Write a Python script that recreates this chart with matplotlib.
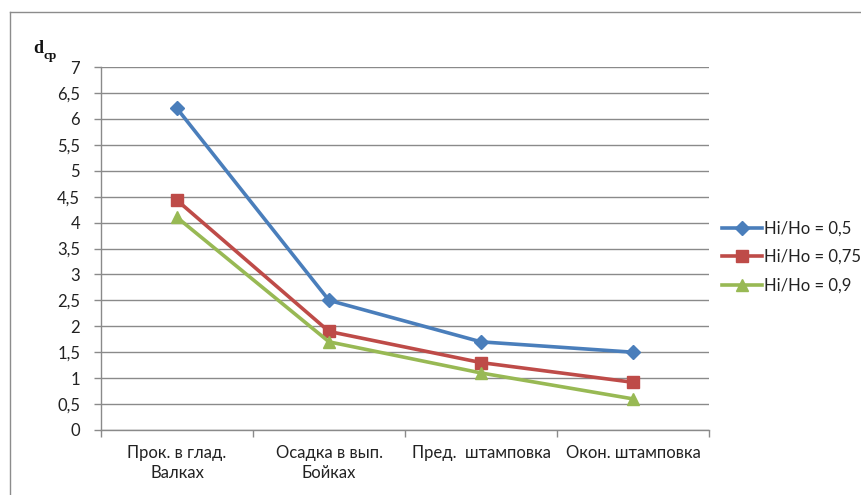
import matplotlib
matplotlib.use("Agg")
import matplotlib.pyplot as plt
from matplotlib.lines import Line2D

categories = ["Прок. в глад.\nВалках", "Осадка в вып.\nБойках", "Пред.  штамповка", "Окон. штамповка"]
series_labels = ["Hi/Ho = 0,5", "Hi/Ho = 0,75", "Hi/Ho = 0,9"]
d_05 = [6.2, 2.5, 1.7, 1.5]
d_075 = [4.43, 1.9, 1.3, 0.92]
d_09 = [4.1, 1.7, 1.1, 0.6]
y_ticks = [0, 0.5, 1, 1.5, 2, 2.5, 3, 3.5, 4, 4.5, 5, 5.5, 6, 6.5, 7]
y_tick_labels = [f"{v:g}".replace(".", ",") for v in y_ticks]

plt.rcParams["font.family"] = ["Lato", "DejaVu Sans"]

W, H = 861, 495
fig = plt.figure(figsize=(W / 100, H / 100), dpi=100)
fig.patch.set_facecolor("white")

# outer chart frame (left and top edges)
fig.add_artist(Line2D([10 / W, 10 / W], [1 - 12 / H, 0], transform=fig.transFigure,
                      color="#8c8c8c", lw=1.0))
fig.add_artist(Line2D([10 / W, 1], [1 - 12 / H, 1 - 12 / H], transform=fig.transFigure,
                      color="#8c8c8c", lw=1.0))

ax = fig.add_axes([101 / W, 1 - 430 / H, (709 - 101) / W, (430 - 67) / H])
ax.set_xlim(0, 4)
ax.set_ylim(0, 7)

grid_c = "#8a8a8a"
for s in ["top", "right"]:
    ax.spines[s].set_visible(False)
for s in ["left", "bottom"]:
    ax.spines[s].set_color(grid_c)
    ax.spines[s].set_linewidth(1.0)

ax.set_yticks(y_ticks)
ax.set_yticklabels(y_tick_labels)
ax.yaxis.grid(True, color=grid_c, lw=1.0)
ax.set_axisbelow(True)
ax.tick_params(axis="y", length=5, width=1.0, color=grid_c, labelsize=12, pad=10,
               labelcolor="#222222")

ax.set_xticks([0, 1, 2, 3, 4])
ax.set_xticklabels([])
ax.tick_params(axis="x", which="major", length=5, width=1.0, color=grid_c)
centers = [i + 0.5 for i in range(len(categories))]
ax.set_xticks(centers, minor=True)
ax.set_xticklabels(categories, minor=True, fontsize=12, linespacing=1.3,
                   color="#222222", va="top")
ax.tick_params(axis="x", which="minor", length=0, pad=11)

styles = [
    (d_05, "#4A7EBB", "D", 7),
    (d_075, "#BE4B48", "s", 9),
    (d_09, "#98B954", "^", 9),
]
for (vals, col, mk, ms), lab in zip(styles, series_labels):
    ax.plot(centers, vals, color=col, lw=2.6, marker=mk, markersize=ms,
            markerfacecolor=col, markeredgecolor=col, label=lab, clip_on=False)

leg = fig.legend(loc="center left", bbox_to_anchor=(715 / W, 1 - 257 / H),
                 frameon=False, fontsize=12, handlelength=2.4, handletextpad=0.15,
                 labelspacing=0.75, borderaxespad=0)
for t in leg.get_texts():
    t.set_color("#222222")

# axis title d_cp
fig.text(33 / W, 1 - 53 / H, "d", family=["Liberation Serif"], fontsize=13,
         fontweight="bold", color="#111111", va="baseline")
fig.text(44 / W, 1 - 59 / H, "ср", family=["Liberation Serif"], fontsize=9.5,
         fontweight="bold", color="#111111", va="baseline")

fig.savefig("out.png", dpi=100, facecolor="white")
